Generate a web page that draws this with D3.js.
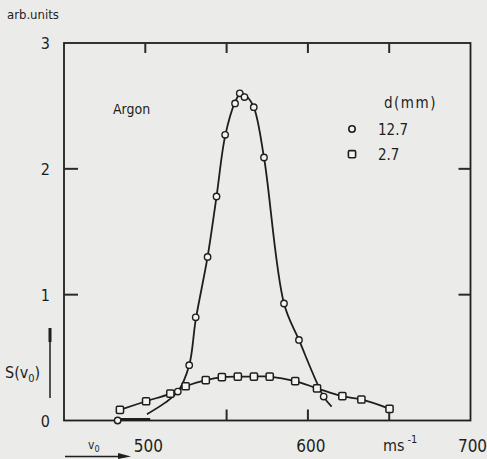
<!DOCTYPE html>
<html><head><meta charset="utf-8">
<script src="https://cdn.jsdelivr.net/npm/d3@7"></script>
<style>
html,body{margin:0;padding:0;background:#ebece9;}
svg{display:block;}
text{font-family:"DejaVu Sans Condensed","DejaVu Sans",sans-serif;fill:#1e1e1e;}
</style></head><body>
<svg id="c" width="487" height="459"></svg>
<script>
// d = 12.7 mm (circles): measured points
const v12 = [483, 520, 527, 531, 538.3, 543.8, 549.1, 555.2, 558.1, 561, 566.7, 573, 585.3, 594.5, 609.7];
const s12 = [0.0, 0.23, 0.44, 0.82, 1.30, 1.78, 2.27, 2.52, 2.60, 2.57, 2.49, 2.09, 0.93, 0.64, 0.19];
// d = 12.7 mm fitted curve
const fit12v = [501, 512, 520, 527, 531, 538.3, 543.8, 549.1, 555.2, 558.6, 562, 566.7, 573, 585.3, 594.5, 609.7, 614.6];
const fit12s = [0.05, 0.14, 0.23, 0.44, 0.80, 1.30, 1.78, 2.26, 2.53, 2.60, 2.58, 2.49, 2.09, 0.93, 0.64, 0.19, 0.11];
// d = 2.7 mm (squares)
const v27 = [484.4, 500.5, 515.4, 524.8, 537.2, 547.1, 556.9, 566.8, 576.5, 592.2, 605.6, 621.2, 632.9, 650.2];
const s27 = [0.085, 0.153, 0.214, 0.272, 0.321, 0.344, 0.349, 0.349, 0.349, 0.313, 0.256, 0.193, 0.167, 0.093];
const xTicksTop = [500, 550, 600, 650];
const xTicksBottom = [550, 600, 650];
const xLabels = [500, 600, 700];
const yTicks = [1, 2];
const yLabels = [0, 1, 2, 3];
const legendLabels = ["12.7", "2.7"];

const svg = d3.select("#c");
const L = 64, R = 470.5, T = 43, B = 420.5;
const x = d3.scaleLinear().domain([450, 700]).range([L, R]);
const y = d3.scaleLinear().domain([0, 3]).range([B, T]);
const ink = "#1e1e1e";

// frame
svg.append("rect").attr("x", L).attr("y", T).attr("width", R - L).attr("height", B - T)
  .attr("fill", "none").attr("stroke", ink).attr("stroke-width", 1.8);

// inward ticks
function tick(x1, y1, x2, y2) {
  svg.append("line").attr("x1", x1).attr("y1", y1).attr("x2", x2).attr("y2", y2)
    .style("stroke", "#2a2a2a").style("stroke-width", "2px");
}
xTicksTop.forEach(t => tick(x(t), T, x(t), T + 10));
xTicksBottom.forEach(t => tick(x(t), B, x(t), B - 11));
yTicks.forEach(t => {
  tick(L, y(t), L + 14, y(t));
  tick(R, y(t), R - 12, y(t));
});

// axis labels
svg.selectAll(".yl").data(yLabels).enter().append("text")
  .attr("x", 50).attr("y", d => y(d) + 6).attr("text-anchor", "end")
  .attr("font-size", 16).text(d => d);
svg.selectAll(".xl").data(xLabels).enter().append("text")
  .attr("x", d => x(d) + (d === 700 ? 2 : 3)).attr("y", 452).attr("text-anchor", "middle")
  .attr("font-size", 17).text(d => d);
const ms = svg.append("text").attr("x", 383).attr("y", 451).attr("font-size", 16);
ms.append("tspan").text("ms");
ms.append("tspan").attr("dx", 3).attr("dy", -8).attr("font-size", 11).text("-1");

svg.append("text").attr("x", 7).attr("y", 19).attr("font-size", 13).text("arb.units");
svg.append("text").attr("x", 113).attr("y", 114).attr("font-size", 14).text("Argon");
svg.append("text").attr("x", 384).attr("y", 108).attr("font-size", 15)
  .attr("letter-spacing", 1.5).text("d(mm)");

// S(v0)
const sv = svg.append("text").attr("x", 5).attr("y", 378).attr("font-size", 16);
sv.append("tspan").text("S(v");
sv.append("tspan").attr("dy", 4).attr("font-size", 11).text("0");
sv.append("tspan").attr("dy", -4).text(")");
svg.append("line").attr("x1", 50).attr("x2", 50).attr("y1", 328).attr("y2", 398)
  .attr("stroke", ink).attr("stroke-width", 1.5);
svg.append("line").attr("x1", 50).attr("x2", 50).attr("y1", 328).attr("y2", 342)
  .attr("stroke", ink).attr("stroke-width", 3);

// v0 arrow
const v0 = svg.append("text").attr("x", 88).attr("y", 449).attr("font-size", 12);
v0.append("tspan").text("v");
v0.append("tspan").attr("dy", 3).attr("font-size", 9).text("0");
svg.append("line").attr("x1", 65).attr("x2", 124).attr("y1", 456.5).attr("y2", 456.5)
  .attr("stroke", ink).attr("stroke-width", 1.5);
svg.append("path").attr("d", "M118,453 L131,456.5 L118,459 Z").attr("fill", ink);

// thick segment near zero
svg.append("line").attr("x1", x(485)).attr("x2", x(503)).attr("y1", B - 1).attr("y2", B - 1)
  .attr("stroke", ink).attr("stroke-width", 3);

// curves
const line = d3.line().x(d => x(d[0])).y(d => y(d[1])).curve(d3.curveCatmullRom.alpha(0.5));
const fit12 = fit12v.map((v, i) => [v, fit12s[i]]);
const pts27 = v27.map((v, i) => [v, s27[i]]);
svg.append("path").attr("d", line(fit12)).attr("fill", "none").attr("stroke", ink).attr("stroke-width", 1.8);
svg.append("path").attr("d", line(pts27)).attr("fill", "none").attr("stroke", ink).attr("stroke-width", 1.8);

// markers
svg.selectAll(".c12").data(v12.map((v, i) => [v, s12[i]])).enter().append("circle")
  .attr("cx", d => x(d[0])).attr("cy", d => y(d[1])).attr("r", 3.2)
  .attr("fill", "#f4f4f2").attr("stroke", ink).attr("stroke-width", 1.4);
svg.selectAll(".s27").data(pts27).enter().append("rect")
  .attr("x", d => x(d[0]) - 3.6).attr("y", d => y(d[1]) - 3.6).attr("width", 7.2).attr("height", 7.2)
  .attr("rx", 1.2)
  .attr("fill", "#f4f4f2").attr("stroke", ink).attr("stroke-width", 1.5);

// legend
svg.append("circle").attr("cx", 352).attr("cy", 129).attr("r", 3.2)
  .attr("fill", "#f4f4f2").attr("stroke", ink).attr("stroke-width", 1.6);
svg.append("rect").attr("x", 348.4).attr("y", 150.6).attr("width", 7.2).attr("height", 7.2).attr("rx", 1.2)
  .attr("fill", "#f4f4f2").attr("stroke", ink).attr("stroke-width", 1.6);
svg.selectAll(".lg").data(legendLabels).enter().append("text")
  .attr("x", 378).attr("y", (d, i) => 135 + i * 25).attr("font-size", 15).text(d => d);
</script>
</body></html>
